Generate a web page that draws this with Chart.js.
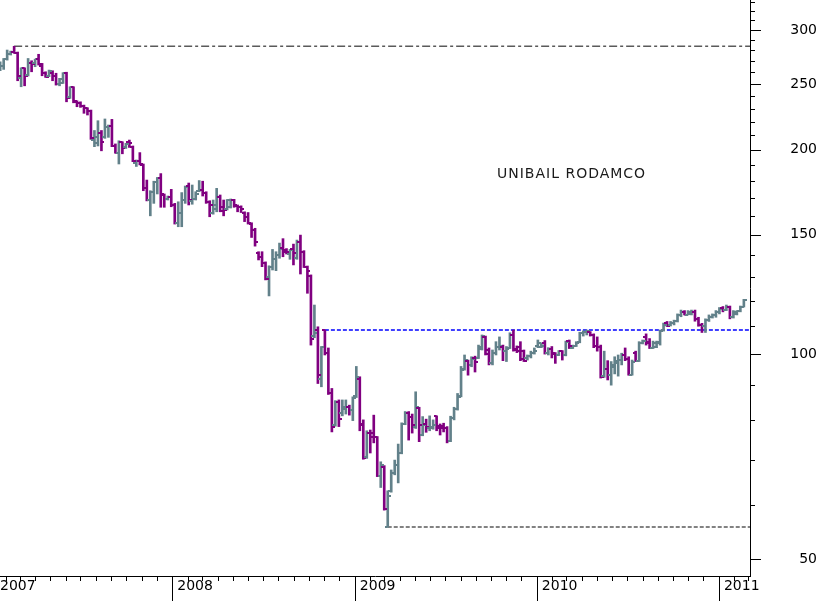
<!DOCTYPE html>
<html>
<head>
<meta charset="utf-8">
<script src="https://cdn.jsdelivr.net/npm/chart.js@4.4.0/dist/chart.umd.min.js"></script>
<style>
  html, body { margin: 0; padding: 0; background: #fff; }
  canvas { display: block; }
</style>
</head>
<body>
<canvas id="myChart" width="817" height="601"></canvas>
<script>
// weekly bars, first one on this friday
const firstWeek = '2007-01-19';

const openP = [262.6,265.9,271.6,276.6,278.1,277.8,254.8,263.5,257.7,268.6,268.6,271.6,265.6,259.2,256.8,259.7,257,249.6,250.9,259.2,
  238.8,247.1,235.3,234.5,232.2,230.1,228.3,206.7,204.4,211.5,209.1,216.2,217.1,202.6,198.1,205.2,201.6,205.5,202.1,191,
  192.8,190,175.5,168.7,173.5,179.2,181.5,171.6,169.1,170.6,165.9,155.9,161.2,168.7,176.9,168.3,169.1,173.8,174.5,173,
  167.7,161.2,163.4,170.4,164.9,163.4,164.6,168.7,165.4,164.6,161.7,159.4,155.5,152.4,140.8,139.2,136.4,129.8,134.6,138,
  140,143.6,142.4,140.5,142.7,138.5,146.4,141.6,134.6,130.2,106.4,108.6,91.9,108.6,100.4,87.6,78.7,85.2,82,83.1,
  83.6,82.8,86.8,91.9,79,70.7,76.6,76.6,75.5,66.3,68.3,55.8,63,66.8,68.8,71.7,79,82,81,78.3,
  83.4,76.1,79,77.8,77.8,81.1,78.5,78.5,78,74.6,80.6,83.1,86.8,95.3,97.9,96.5,98.8,98.8,102,106.1,
  101.5,97,100.6,102.7,102.7,101.1,102.3,106.8,102,102.7,101.3,98.8,99.4,100.4,102.9,102.7,104,100.4,102,100.4,
  99.8,101.1,99.8,104.6,102.3,102.9,104.4,107.6,108,107.7,106.8,102.9,102.7,92.9,95.3,93.4,95.9,97,98.1,99.8,
  98.4,93.4,100.4,97.9,103.9,106.1,104.4,102.3,102.7,103.9,108.6,111.1,110.5,111.2,111.8,114.3,115.5,114.4,114.7,115.5,
  112.8,110.5,110,112.3,113.4,114.4,115.5,117.2,116.2,117.4,113.6,114.7,116,117.4];

const highP = [269.5,272.5,280.4,279.4,284,278.5,264,264,272.5,270.4,271.9,276.4,268,260.5,262,261.4,259.2,254.8,259.7,260.1,
  247.6,247.6,236.1,235.3,232.7,230.6,228.8,213.5,220.7,213.5,222,217.5,221.7,204,206.2,205.5,204.4,206.7,202.6,193.2,
  198.1,190.6,180.5,174.1,179.8,182.1,184.5,172.2,171,174.9,166.8,167.7,173,176.9,178.7,177.5,173.5,180.2,179.8,173.5,
  168.3,168.7,175.5,171.6,168.7,169,169.3,169.1,165.9,165.4,162.1,161.7,156.2,153.3,141.6,141.6,136.8,135,142.7,141.6,
  145.8,148,143.1,142.7,145.3,147.3,149.8,142.1,134.9,130.9,118.2,109.8,102.7,108.6,102.2,89.1,85.5,85.7,85.7,85.7,
  84.2,86.6,96,92.7,80.1,77.2,77.4,81.4,75.7,69.5,68.6,63,67.6,69.9,73.8,79.3,82.4,82.4,81.7,88.1,
  83.6,81,80.3,81.2,80.1,81.2,79,79.2,78.3,81.1,83.6,87.6,96,99.8,98.1,99.2,99.4,103.2,106.8,106.4,
  102.2,101.5,104.4,106.1,103.2,102.7,107.6,108.6,102.9,104.4,101.5,99.8,101.1,102.2,105,104,104.8,102.3,102.7,100.6,
  101.3,101.3,104.6,105,103.2,104.4,107.8,108.3,108.6,108,107.2,106.1,103.2,101.1,97.9,97.6,99.2,99.8,100.4,102.2,
  99.2,98.1,101.1,104.4,105,107.2,105.5,104.6,104.6,108.6,111.2,111.8,111.8,112.3,114.7,116.2,116,116,116.2,116.2,
  113.4,111.1,112.8,114.3,114.7,116,117.2,117.6,118.2,117.8,116,116,117.8,120.5];

const lowP = [261.4,262.6,271,275.7,277.3,252.7,247.6,248.4,256.8,260.5,265,266.5,257,255.6,256.2,252.7,249,248.4,250.4,235.3,
  238,234.5,231.4,230.9,226.3,225,207.2,202.1,202.6,199.3,207.9,208.6,202.1,197.7,190.6,197.3,200.9,201.6,192.1,189,
  190,174.1,168.2,159.9,166.8,172.2,164.6,164.6,168.7,164.9,155.5,154.1,154.1,166.8,165.9,166.3,168.7,173.5,171,166.8,
  159.4,160.8,162.1,162.1,159.9,163.1,164.2,164.6,162.1,161.7,156.8,155.5,148.6,144.3,137.7,134.6,128.7,121.9,133.1,132.8,
  138.5,139.2,140.5,138,135.4,138,131.3,134.2,123,103.2,105.8,90.6,89.6,99.8,87.3,76.9,78.4,78.3,81.2,81.7,
  81.4,79.9,86.4,77.2,70.1,70.3,71.6,74.1,66.1,63.7,59,55.7,62.7,66.5,64.7,71.4,78.8,74.8,76.6,77.8,
  74.4,75.9,76.8,77.2,77.6,77.2,76.1,76.9,74.1,74.4,80.1,82.8,86.6,94.8,93.2,95.9,94.2,98.6,101.5,99.8,
  96.5,96.5,99.8,101.5,97.9,97.6,102,101.1,100.6,97.9,97.6,98.1,98.8,100.1,102.3,102.3,100.1,99.8,98.8,97,
  99.6,98.1,99.5,102,102,102.7,104,106.4,106.8,106.4,102.3,101.1,92.3,92.5,91.7,90.1,93.6,92.9,96.5,97.9,
  93.2,93.2,97.6,97.6,103.6,103.2,102,102,102.3,103.2,108.2,109.9,110.1,110.5,111.6,113.6,114.3,114.3,114.3,111.9,
  110,107.7,107.7,111.8,113.1,113.4,114.7,115.5,116,112.8,113.1,114.3,115.5,117.4];

const closeP = [265.9,271.6,276.6,278.1,277.8,256.8,263.5,256.8,268.6,267.4,271.6,267.1,259.2,256.2,261.1,257,249.6,254.2,259.2,238,
  247.1,235.9,234.5,232.2,230.1,228.3,207.9,208.6,211.5,205.2,216.2,217.1,202.6,198.1,205.2,200.9,203.8,204.8,192.6,192.8,
  190.4,175.5,168.7,173.5,179.2,181.5,172.2,169.1,170.6,165.9,155.9,161.2,168.7,176.5,168.7,169.1,172.2,174.5,173,167.7,
  165.9,165.9,170.4,162.7,163.1,168.7,168.7,165.9,164.6,163.4,159.4,155.9,152.4,146.4,139.2,136.4,129,134.6,138,140,
  143.1,141.6,141.6,142.4,140.8,146.4,141.6,134.6,132.8,105.5,107.6,93.4,102.5,100.4,87.6,78.3,85.2,80.3,83.6,83.7,
  82.8,86.4,92.7,78.7,70.4,76.6,75.7,75.5,66.3,68.8,59.2,61.8,66.8,68.8,71.7,79,82,81,78.7,83.6,
  78.7,78.7,78.3,78.3,78.7,77.8,77.8,77.8,74.6,80.6,83.1,86.6,94.8,98.1,96.5,98.6,97.6,102.7,106.4,100.1,
  97,100.6,102.7,102.9,101.1,102,106.8,101.5,101.3,98.6,97.9,99.4,100.4,101.3,103.9,102.9,100.4,102,100.1,99.8,
  101.1,99.8,104.4,102.9,102.9,104,107.6,108,108.3,106.8,102.9,102.7,92.6,95.3,93.4,96.5,97.9,98.1,99.8,98.4,
  93.4,97.6,97.9,103.9,104.8,104,102.3,104,104.4,108.3,110.5,110.1,111.1,111.9,114.4,115.5,114.4,115.5,115.5,112.6,
  110.5,110.1,112.3,113.4,114.4,115.5,116.7,116.2,117.4,113.6,115.5,116,117.6,120.2];

const yearLabels = ['2007', '2008', '2009', '2010', '2011'];
const priceLabels = [50, 100, 150, 200, 250, 300];
const priceTicks = [50,60,70,80,90,100,110,120,130,140,150,160,170,180,190,200,210,220,230,240,250,260,270,280,290,300,310,320,330];

// horizontal levels: value and the bar they start from
const levelValues = [284, 108.6, 55.7];
const levelFromBar = [4, 93, 111];

const titleText = 'UNIBAIL RODAMCO';

const upColor = '#62818a';
const downColor = '#800080';

const DAY = 86400000;
const day0 = Date.UTC(2007, 0, 1);
const startDay = (Date.parse(firstWeek) - day0) / DAY;
const barDays = openP.map((v, i) => startDay + 7 * i);
const yearDays = yearLabels.map(y => (Date.UTC(+y, 0, 1) - day0) / DAY);
const xMin = 17.64, xMax = 1521.3;
const yMin = 47.2, yMax = 332.2;

const isUp = closeP.map((c, i) => c >= openP[i]);

// small open / close tick images, used as point styles
function tickImage(color, left) {
  const c = document.createElement('canvas');
  c.width = 6; c.height = 2;
  const g = c.getContext('2d');
  g.fillStyle = color;
  g.fillRect(left ? 0 : 3, 0, 3, 2);
  return c;
}
const openUp = tickImage(upColor, true), openDown = tickImage(downColor, true);
const closeUp = tickImage(upColor, false), closeDown = tickImage(downColor, false);

function levelLine(k) {
  return [{ x: barDays[levelFromBar[k]], y: levelValues[k] }, { x: xMax, y: levelValues[k] }];
}

const axisMarks = {
  id: 'axisMarks',
  afterDraw(chart) {
    const ctx = chart.ctx;
    const xs = chart.scales.x, ys = chart.scales.y;
    const area = chart.chartArea;
    ctx.save();
    ctx.strokeStyle = '#000';
    ctx.lineWidth = 1;
    ctx.beginPath();
    for (let yr = 2007; yr <= 2011; yr++) {
      for (let m = 0; m < 12; m++) {
        const d = (Date.UTC(yr, m, 1) - day0) / DAY;
        if (d < xs.min || d > xs.max) continue;
        const px = Math.round(xs.getPixelForValue(d)) - 0.5;
        ctx.moveTo(px, area.bottom);
        ctx.lineTo(px, area.bottom + (m === 0 ? 25 : 5));
      }
    }
    priceTicks.forEach(v => {
      const py = Math.round(ys.getPixelForValue(v)) + 0.5;
      ctx.moveTo(area.right, py);
      ctx.lineTo(area.right + (priceLabels.includes(v) ? 11 : 5), py);
    });
    ctx.stroke();

    ctx.fillStyle = '#1a1a1a';
    ctx.font = '14px "DejaVu Sans"';
    ctx.letterSpacing = '1px';
    ctx.textBaseline = 'middle';
    ctx.fillText(titleText, 497, 174);
    ctx.restore();
  }
};

Chart.defaults.font.family = '"DejaVu Sans"';
Chart.defaults.font.size = 14;
Chart.defaults.color = '#000';

const ctx = document.getElementById('myChart').getContext('2d');
const myChart = new Chart(ctx, {
  type: 'bar',
  data: {
    datasets: [
      {
        type: 'line', data: levelLine(0), borderColor: '#5a5a5a', borderWidth: 1.5,
        borderDash: [8, 3, 3, 3], pointRadius: 0, order: 5
      },
      {
        type: 'line', data: levelLine(1), borderColor: '#0000ff', borderWidth: 1.5,
        borderDash: [4, 2], pointRadius: 0, order: 5
      },
      {
        type: 'line', data: levelLine(2), borderColor: '#5a5a5a', borderWidth: 1.5,
        borderDash: [4, 2], pointRadius: 0, order: 5
      },
      {
        type: 'bar',
        data: barDays.map((d, i) => ({ x: d, y: [lowP[i], highP[i]] })),
        backgroundColor: isUp.map(u => u ? upColor : downColor),
        barThickness: 2,
        borderWidth: 0,
        order: 2
      },
      {
        type: 'line', showLine: false,
        data: barDays.map((d, i) => ({ x: d, y: openP[i] })),
        pointStyle: c => isUp[c.dataIndex] ? openUp : openDown,
        pointRadius: 3,
        order: 1
      },
      {
        type: 'line', showLine: false,
        data: barDays.map((d, i) => ({ x: d, y: closeP[i] })),
        pointStyle: c => isUp[c.dataIndex] ? closeUp : closeDown,
        pointRadius: 3,
        order: 1
      }
    ]
  },
  options: {
    responsive: false,
    animation: false,
    events: [],
    layout: { padding: 0, autoPadding: false },
    plugins: {
      legend: { display: false },
      tooltip: { enabled: false },
      title: { display: false }
    },
    scales: {
      x: {
        type: 'linear',
        min: xMin, max: xMax,
        offset: false,
        bounds: 'data',
        grid: { display: false, drawTicks: false },
        border: { display: true, color: '#000', width: 1 },
        ticks: {
          autoSkip: false, maxRotation: 0, minRotation: 0,
          align: 'start', labelOffset: 4, padding: 2,
          callback: (v, i) => yearLabels[i]
        },
        afterBuildTicks: s => {
          s.ticks = yearDays.map((d, i) => ({ value: i === 0 ? s.min - 8 : d }));
        },
        afterFit: s => {
          s.height = 25;
          s.paddingLeft = 0;
          s.paddingRight = 0;
        }
      },
      y: {
        type: 'logarithmic',
        position: 'right',
        min: yMin, max: yMax,
        bounds: 'data',
        grid: { display: false, drawTicks: false },
        border: { display: true, color: '#000', width: 1 },
        ticks: {
          autoSkip: false,
          crossAlign: 'far',
          padding: 35,
          callback: v => priceLabels.includes(v) ? String(v) : ''
        },
        afterBuildTicks: s => {
          s.ticks = priceTicks.map(v => ({ value: v }));
        },
        afterFit: s => {
          s.width = 67;
          s.paddingTop = 0;
          s.paddingBottom = 0;
        }
      }
    }
  },
  plugins: [axisMarks]
});
</script>
</body>
</html>
